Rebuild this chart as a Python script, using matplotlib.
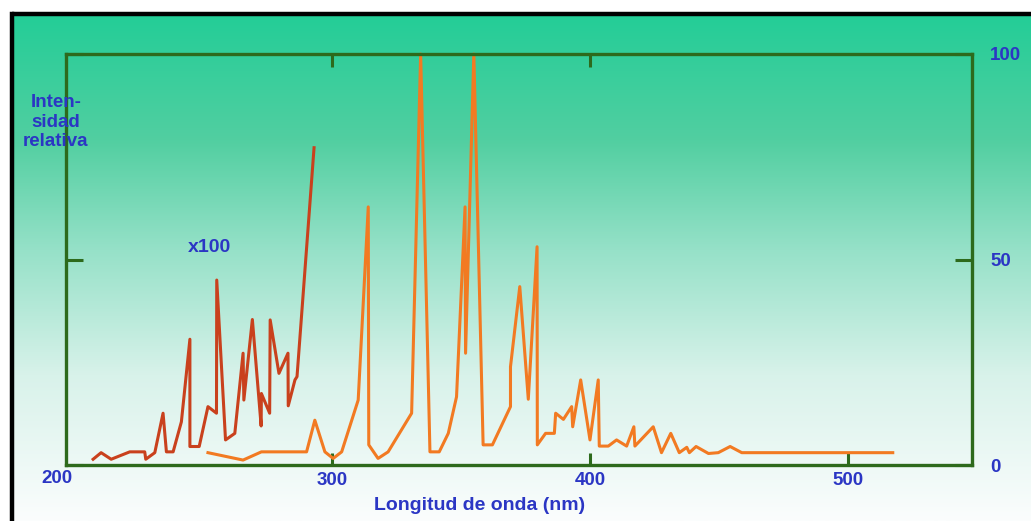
#!/usr/bin/env python3
# espectro de emision, intensidad relativa vs longitud de onda

import numpy as np
import matplotlib.pyplot as plt
from matplotlib.colors import LinearSegmentedColormap
from matplotlib.lines import Line2D

plt.rcParams["font.family"] = ["Liberation Sans", "DejaVu Sans"]
plt.rcParams["font.weight"] = "bold"

# serie ampliada x100 (rojo oscuro)
wl_x100 = [207.5, 210.6, 214.5, 221.7, 227.5, 227.9, 231.4, 234.6, 235.9, 238.5,
           241.7, 245.0, 245.0, 248.6, 252.0, 255.3, 255.4, 258.8, 262.4, 265.6,
           265.9, 269.2, 272.6, 272.7, 275.9, 276.1, 279.5, 283.0, 283.1, 285.7,
           286.5, 293.1]
int_x100 = [1.4, 3.0, 1.4, 3.2, 3.2, 1.4, 3.0, 12.6, 3.2, 3.2,
            10.5, 30.6, 4.5, 4.5, 14.2, 12.6, 45.0, 6.1, 7.7, 27.2,
            15.8, 35.4, 9.5, 17.4, 12.6, 35.3, 22.3, 27.2, 14.4, 20.7,
            21.5, 77.2]

# serie principal (naranja)
wl_main = [252.0, 265.6, 272.7, 290.2, 293.4, 297.3, 300.5, 303.8, 310.2, 314.1,
           314.3, 317.9, 321.8, 330.9, 334.4, 338.0, 341.6, 345.1, 348.3, 351.6,
           351.8, 355.0, 358.6, 362.2, 369.2, 369.2, 372.8, 376.1, 379.5, 379.6,
           382.8, 386.2, 386.7, 389.7, 392.9, 393.3, 396.4, 400.0, 403.2, 403.6,
           407.1, 410.3, 414.2, 417.0, 417.4, 424.5, 427.7, 431.3, 434.6, 437.5,
           438.5, 441.1, 445.9, 449.7, 454.3, 458.8, 517.3]
int_main = [3.0, 1.2, 3.2, 3.2, 10.9, 3.2, 1.6, 3.2, 15.8, 62.8,
            4.9, 1.6, 3.2, 12.6, 100.0, 3.2, 3.2, 7.7, 16.6, 62.8,
            27.2, 100.0, 4.9, 4.9, 14.2, 23.9, 43.4, 16.0, 53.1, 4.9,
            7.7, 7.7, 12.6, 11.1, 14.2, 9.3, 20.7, 6.1, 20.7, 4.6,
            4.6, 6.1, 4.6, 9.3, 4.6, 9.3, 3.0, 7.7, 3.0, 4.3,
            3.0, 4.5, 2.8, 3.0, 4.5, 3.0, 3.0]

x_ticks = [300, 400, 500]
y_ticks = [0, 50, 100]

BLUE = "#2b36c4"
GREEN = "#2d6a1c"

fig = plt.figure(figsize=(10.31, 5.21), dpi=100)

# fondo con degradado verde agua -> blanco
bg = fig.add_axes([0, 0, 1, 1], zorder=-10)
grad_cmap = LinearSegmentedColormap.from_list(
    "bg", [(0.0, "#1ecd96"), (0.27, "#52cfa1"), (0.48, "#96e1c8"),
           (0.72, "#d8f2ea"), (1.0, "#fbfdfd")])
grad = np.linspace(0, 1, 256).reshape(-1, 1)
bg.imshow(grad, aspect="auto", cmap=grad_cmap, extent=[0, 1, 0, 1],
          origin="upper")
bg.set_xlim(0, 1)
bg.set_ylim(0, 1)
bg.axis("off")
# zona blanca arriba / izquierda y marco negro
bg.fill_between([0, 1], 1 - 13 / 521, 1, color="white", zorder=2)
bg.fill_betweenx([0, 1], 0, 10 / 1031, color="white", zorder=2)
bg.add_line(Line2D([12 / 1031, 1], [1 - 14 / 521] * 2, color="black", lw=3.2,
                   solid_capstyle="butt", zorder=3))
bg.add_line(Line2D([12 / 1031] * 2, [0, 1 - 14 / 521], color="black", lw=3.2,
                   zorder=3))

ax = fig.add_axes([66 / 1031, 1 - 465 / 521, 906 / 1031, 411 / 521])
ax.patch.set_alpha(0)
ax.plot(wl_x100, int_x100, color="#c9411d", lw=2.2, clip_on=False)
ax.plot(wl_main, int_main, color="#f27a22", lw=2.2, clip_on=False)

ax.set_xlim(197, 548)
ax.set_ylim(0, 100)
for s in ax.spines.values():
    s.set_color(GREEN)
    s.set_linewidth(2.4)

ax.set_xticks(x_ticks)
ax.set_yticks(y_ticks)
ax.tick_params(axis="x", direction="in", length=9, width=2.2, color=GREEN,
               top=True, labelcolor=BLUE, labelsize=13.5, pad=5)
ax.tick_params(axis="y", direction="in", length=12, width=2.2, color=GREEN,
               left=True, right=True, labelleft=False, labelright=True,
               labelcolor=BLUE, labelsize=13.5, pad=13)
# solo hay marcas arriba en 300 y 400
ax.xaxis.get_major_ticks()[2].tick2line.set_visible(False)
for lbl in ax.get_yticklabels():
    lbl.set_fontweight("bold")
for lbl in ax.get_xticklabels():
    lbl.set_fontweight("bold")

ax.text(-0.01, -0.033, "200", transform=ax.transAxes, ha="center", va="center",
        color=BLUE, fontsize=13.5, fontweight="bold")
ax.text(0.5 * (375 + 585) / 1031, 1 - 505 / 521, "Longitud de onda (nm)",
        transform=fig.transFigure, ha="center", va="center", color=BLUE,
        fontsize=14, fontweight="bold")
ax.text(56 / 1031, 1 - 122 / 521, "Inten-\nsidad\nrelativa",
        transform=fig.transFigure, ha="center", va="center", color=BLUE,
        fontsize=13.5, fontweight="bold", linespacing=1.2)
ax.text(209 / 1031, 1 - 248 / 521, "x100", transform=fig.transFigure,
        ha="center", va="center", color=BLUE, fontsize=14, fontweight="bold")

fig.savefig("out.png", dpi=100)
